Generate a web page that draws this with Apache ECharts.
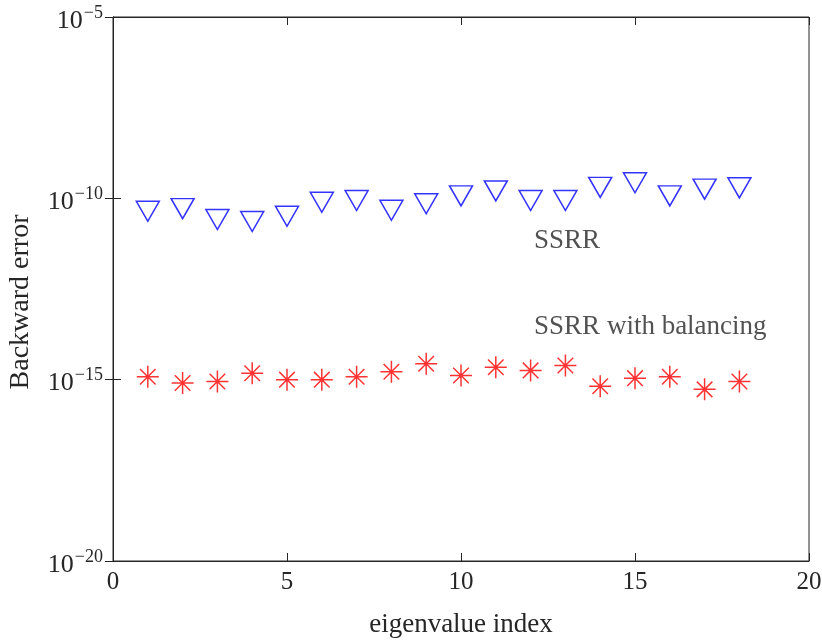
<!DOCTYPE html>
<html>
<head>
<meta charset="utf-8">
<script src="https://cdn.jsdelivr.net/npm/echarts@6/dist/echarts.min.js"></script>
<style>
  html, body { margin: 0; padding: 0; background: #fff; }
  #chart { width: 822px; height: 641px; }
</style>
</head>
<body>
<div id="chart"></div>
<script>
// eigenvalue index
var idx = [1, 2, 3, 4, 5, 6, 7, 8, 9, 10, 11, 12, 13, 14, 15, 16, 17, 18];
// backward error, SSRR
var ssrr = [4.4e-11, 5.2e-11, 2.6e-11, 2.3e-11, 3.2e-11, 7.8e-11, 8.7e-11, 4.7e-11, 7.1e-11,
            1.17e-10, 1.6e-10, 8.7e-11, 8.7e-11, 2.0e-10, 2.7e-10, 1.17e-10, 1.8e-10, 1.95e-10];
// backward error, SSRR with balancing
var ssrrBal = [1.2e-15, 8.1e-16, 8.9e-16, 1.5e-15, 1.0e-15, 1.0e-15, 1.2e-15, 1.66e-15, 2.75e-15,
               1.3e-15, 2.2e-15, 1.8e-15, 2.45e-15, 6.6e-16, 1.1e-15, 1.2e-15, 5.4e-16, 8.9e-16];
// text annotations
var notes = ['SSRR', 'SSRR with balancing'];
var noteX = [12.1, 12.1];
var noteY = [6.7e-12, 2.9e-14];

var FONT = '"Liberation Serif", "DejaVu Serif", serif';
var INK = '#262626';

function pairs(xs, ys) {
    return xs.map(function (x, i) { return [x, ys[i]]; });
}

function expLabel(v) {
    var e = Math.round(Math.log10(v));
    return '{b|10}{s|' + (e < 0 ? '\u2212' + (-e) : e) + '}';
}

var star = 'path://M0,-10L0,10M-10,0L10,0M-7.07,-7.07L7.07,7.07M-7.07,7.07L7.07,-7.07';

var option = {
    backgroundColor: '#fff',
    animation: false,
    textStyle: { fontFamily: FONT },
    grid: {
        left: 113, right: 13, top: 17, bottom: 80,
        outerBoundsMode: 'none', containLabel: false,
        show: true, borderColor: INK, borderWidth: 1, backgroundColor: '#fff'
    },
    xAxis: [{
        type: 'value', min: 0, max: 20, interval: 5,
        name: 'eigenvalue index', nameLocation: 'middle', nameGap: 50,
        nameTextStyle: { color: INK, fontSize: 27, fontFamily: FONT },
        axisLine: { show: true, lineStyle: { color: INK } },
        axisTick: { inside: true, length: 8, lineStyle: { color: INK } },
        axisLabel: { color: INK, fontSize: 25, fontFamily: FONT, margin: 9 },
        splitLine: { show: false }
    }, {
        type: 'value', min: 0, max: 20, interval: 5, position: 'top',
        axisLine: { show: true, lineStyle: { color: INK } },
        axisTick: { inside: true, length: 8, lineStyle: { color: INK } },
        axisLabel: { show: false }, splitLine: { show: false }
    }],
    yAxis: [{
        type: 'log', logBase: 10, min: 1e-20, max: 1e-5, interval: 5,
        name: 'Backward error', nameLocation: 'middle', nameGap: 78,
        nameTextStyle: { color: INK, fontSize: 28, fontFamily: FONT, padding: [0, 0, 0, -26] },
        axisLine: { show: true, lineStyle: { color: INK } },
        axisTick: { inside: true, length: 8, lineStyle: { color: INK } },
        minorTick: { show: false },
        splitLine: { show: false },
        axisLabel: {
            color: INK, margin: 10, formatter: expLabel,
            rich: {
                b: { fontSize: 26, fontFamily: FONT, color: INK, padding: [8, 0, 0, 0] },
                s: { fontSize: 18, fontFamily: FONT, color: INK, padding: [0, 0, 8, 1] }
            }
        }
    }, {
        type: 'log', logBase: 10, min: 1e-20, max: 1e-5, interval: 5, position: 'right',
        axisLine: { show: true, lineStyle: { color: INK } },
        axisTick: { inside: true, length: 8, lineStyle: { color: INK } },
        axisLabel: { show: false }, splitLine: { show: false }
    }],
    series: [{
        name: 'SSRR',
        type: 'scatter',
        data: pairs(idx, ssrr),
        symbol: 'triangle',
        symbolRotate: 180,
        symbolSize: [23, 20],
        itemStyle: { color: 'rgba(0,0,0,0)', borderColor: '#0000ff', borderWidth: 1.5 }
    }, {
        name: 'SSRR with balancing',
        type: 'scatter',
        data: pairs(idx, ssrrBal),
        symbol: star,
        symbolSize: 22,
        itemStyle: { color: 'rgba(0,0,0,0)', borderColor: '#ff0000', borderWidth: 1.5 }
    }, {
        name: 'notes',
        type: 'scatter',
        symbolSize: 0,
        silent: true,
        data: notes.map(function (t, i) { return { name: t, value: [noteX[i], noteY[i]] }; }),
        label: {
            show: true, position: 'right', distance: 0,
            formatter: '{b}', color: INK, fontSize: 27, fontFamily: FONT
        }
    }]
};

echarts.init(document.getElementById('chart'), null, { renderer: 'canvas' }).setOption(option);
</script>
</body>
</html>
